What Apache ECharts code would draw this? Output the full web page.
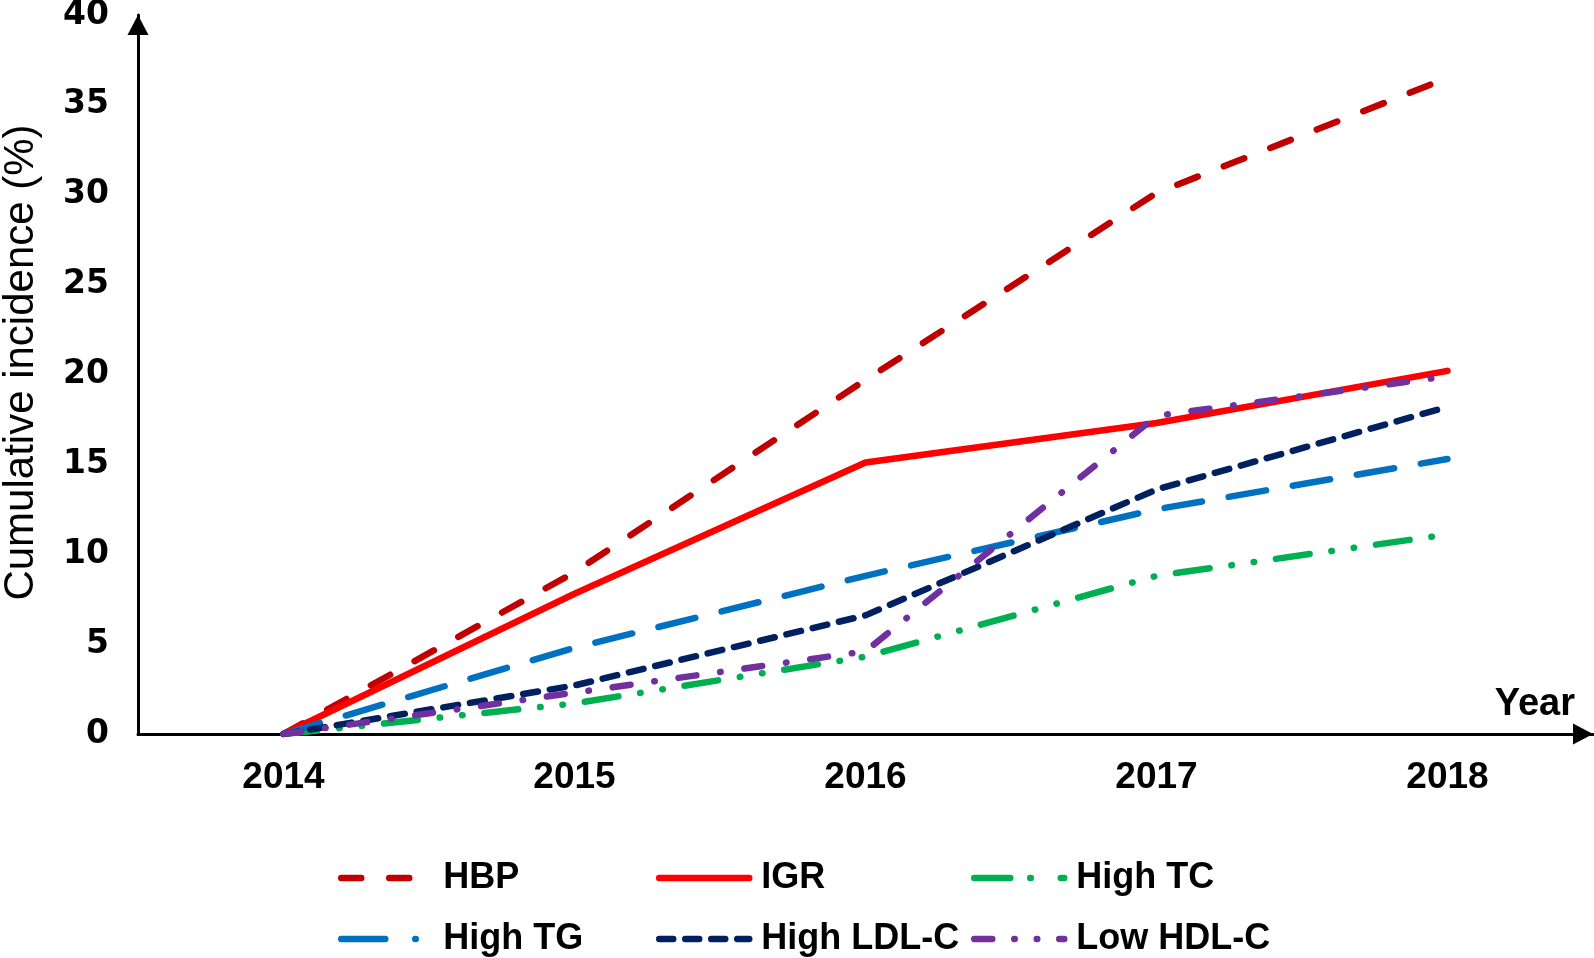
<!DOCTYPE html>
<html>
<head>
<meta charset="utf-8">
<script src="https://cdn.jsdelivr.net/npm/echarts@6/dist/echarts.min.js"></script>
<style>html,body{margin:0;padding:0;background:#fff;}#c{width:1594px;height:958px;}</style>
</head>
<body>
<div id="c"></div>
<script>
const years = ['2014', '2015', '2016', '2017', '2018'];
const yTicks = { min: 0, max: 40, interval: 5 };
const hbp = [0, 9.0, 19.7, 30.1, 36.5];
const igr = [0, 7.8, 15.1, 17.3, 20.2];
const highTC = [0, 1.7, 4.3, 8.8, 11.1];
const highTG = [0, 4.8, 8.8, 12.5, 15.3];
const highLDL = [0, 2.7, 6.6, 13.6, 18.2];
const lowHDL = [0, 2.3, 4.6, 17.7, 19.9];
const names = ['HBP', 'IGR', 'High TC', 'High TG', 'High LDL-C', 'Low HDL-C'];

const styles = [
  { color: '#C00000', type: [22, 28] },
  { color: '#FF0000', type: 'solid' },
  { color: '#00B050', type: [34, 22, 0.5, 22, 0.5, 22] },
  { color: '#0070C0', type: [38, 27] },
  { color: '#002060', type: [15, 12] },
  { color: '#7030A0', type: [18, 24, 0.5, 24] }
];
const legendDash = [
  [20, 28],
  'solid',
  [36, 20, 0.5, 30],
  [44, 30, 0.5, 30],
  [14, 12],
  [18, 22, 0.5, 22, 0.5, 22]
];
const values = [hbp, igr, highTC, highTG, highLDL, lowHDL];

const series = names.map((n, i) => ({
  name: n,
  type: 'line',
  data: values[i],
  symbol: 'none',
  showSymbol: false,
  lineStyle: { color: styles[i].color, width: 6.5, type: styles[i].type, cap: 'round', join: 'round' },
  itemStyle: { color: styles[i].color }
}));

const legendPos = [
  [338, 858], [656, 858], [971, 858],
  [338, 919], [656, 919], [971, 919]
];
const legends = names.map((n, i) => ({
  data: [n],
  left: legendPos[i][0],
  top: legendPos[i][1],
  itemWidth: 90,
  itemHeight: 20,
  itemGap: 0,
  padding: 0,
  itemStyle: { opacity: 0 },
  lineStyle: { width: 6.5, color: styles[i].color, type: legendDash[i], cap: 'round' },
  textStyle: { fontFamily: 'Liberation Sans', fontWeight: 'bold', fontSize: 36, color: '#000', lineHeight: 40, padding: [0, 0, 0, 7] },
  selectedMode: false
}));

const chart = echarts.init(document.getElementById('c'));
chart.setOption({
  animation: false,
  backgroundColor: '#fff',
  grid: { left: 138, right: 1, top: 15, bottom: 958 - 734, containLabel: false, outerBoundsMode: 'none' },
  legend: legends,
  xAxis: {
    type: 'category',
    data: years,
    boundaryGap: true,
    name: 'Year',
    nameLocation: 'end',
    nameGap: -18,
    nameTextStyle: { fontFamily: 'Liberation Sans', fontWeight: 'bold', fontSize: 38, color: '#000', align: 'right', verticalAlign: 'bottom', padding: [0, 0, 10, 0] },
    axisLine: { show: true, symbol: ['none', 'triangle'], symbolSize: [21, 20], symbolOffset: [0, -10], lineStyle: { color: '#000', width: 3 } },
    axisTick: { show: false },
    axisLabel: { fontFamily: 'Liberation Sans', fontWeight: 'bold', fontSize: 37, color: '#000', margin: 25 },
    splitLine: { show: false }
  },
  yAxis: {
    type: 'value',
    min: yTicks.min,
    max: yTicks.max,
    interval: yTicks.interval,
    name: 'Cumulative incidence (%)',
    nameLocation: 'middle',
    nameRotate: 90,
    nameGap: 96,
    nameTextStyle: { fontFamily: 'Liberation Sans', fontSize: 42, color: '#000', padding: [0, 0, 0, 24] },
    axisLine: { show: true, symbol: ['none', 'triangle'], symbolSize: [21, 20], symbolOffset: [0, -10], lineStyle: { color: '#000', width: 3 } },
    axisTick: { show: false },
    axisLabel: { fontFamily: 'DejaVu Sans', fontWeight: 'bold', fontSize: 33, color: '#000', margin: 29 },
    splitLine: { show: false }
  },
  series: series
});
</script>
</body>
</html>
